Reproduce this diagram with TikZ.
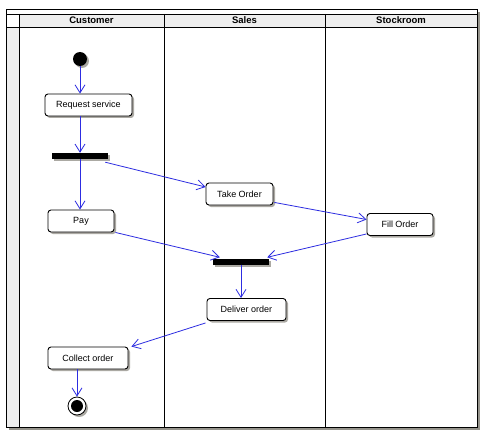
\documentclass[tikz,border=0pt]{standalone}
\usepackage{fontspec}
\setmainfont{Liberation Sans}
\usetikzlibrary{arrows.meta,shadows,calc}
\definecolor{flowblue}{RGB}{45,45,225}
\definecolor{lanegray}{RGB}{238,238,238}
\definecolor{shadowgray}{RGB}{150,148,140}
\tikzset{
  act/.style={draw=black, line width=0.9pt, rounded corners=3pt, fill=white,
    drop shadow={shadow xshift=2pt, shadow yshift=-2pt, fill=shadowgray, opacity=0.8},
    minimum height=22pt, inner sep=0pt, font=\fontsize{9}{11}\selectfont},
  bar/.style={fill=black, draw=none, minimum width=56pt, minimum height=6pt, inner sep=0pt,
    drop shadow={shadow xshift=2pt, shadow yshift=-2pt, fill=shadowgray, opacity=0.8}},
  flow/.style={draw=flowblue, line width=0.8pt, -{Straight Barb[length=8pt,width=10pt,line width=0.8pt]}},
  lanehead/.style={font=\bfseries\fontsize{9.5}{11}\selectfont}
}
\begin{document}
\begin{tikzpicture}[x=1pt,y=-1pt]
\useasboundingbox (0,0) rectangle (500,433);
% frame shadow
\fill[shadowgray] (477,12) rectangle (480,430);
\fill[shadowgray] (9,427) rectangle (480,430);
% frame
\fill[white] (6,9) rectangle (477,427);
\fill[lanegray] (6,27) rectangle (19,427);
\fill[lanegray] (19,14) rectangle (477,27);
\draw[line width=0.8pt] (6,9) rectangle (477,427);
\draw[line width=0.8pt] (6,14) -- (477,14);
\draw[line width=0.8pt] (6,27) -- (477,27);
\draw[line width=0.8pt] (19,14) -- (19,427);
\draw[line width=0.8pt] (164,14) -- (164,427);
\draw[line width=0.8pt] (325,14) -- (325,427);
\node[lanehead] (hcust) at (91.5,20.5) {Customer};
\node[lanehead] (hsales) at (244.5,20.5) {Sales};
\node[lanehead] (hstock) at (401,20.5) {Stockroom};
% nodes
\node[circle, fill=black, minimum size=14pt, inner sep=0pt,
  drop shadow={shadow xshift=2pt, shadow yshift=-2pt, fill=shadowgray, opacity=0.8}] (init) at (80,59) {};
\node[act, minimum width=87pt] (req) at (88.5,105) {Request service};
\node[bar] (fork) at (80,156) {};
\node[act, minimum width=66pt] (pay) at (81,221) {Pay};
\node[act, minimum width=67pt] (take) at (239.5,194) {Take Order};
\node[act, minimum width=66pt] (fill) at (400,224.5) {Fill Order};
\node[bar] (join) at (241,261.5) {};
\node[act, minimum width=79pt] (deliver) at (246.5,309.5) {Deliver order};
\node[act, minimum width=80pt] (collect) at (88,358) {Collect order};
\node[circle, draw=black, fill=white, line width=0.8pt, minimum size=18pt, inner sep=0pt,
  drop shadow={shadow xshift=2pt, shadow yshift=-2pt, fill=shadowgray, opacity=0.8}] (final) at (77,406) {};
\node[circle, fill=black, minimum size=12pt, inner sep=0pt] (finaldot) at (final.center) {};
% flows
\draw[flow] (init.south) -- (req.north -| init.south);
\draw[flow] (req.south -| init.south) -- (fork.north -| init.south);
\draw[flow] (fork.south -| init.south) -- (pay.north -| init.south);
\draw[flow] ($(fork.south east)+(-3,3)$) -- ($(take.west)+(0,-7)$);
\draw[flow] ($(take.south east)+(1,-3)$) -- ($(fill.west)+(0,-5)$);
\draw[flow] ($(pay.south east)+(1,0)$) -- ($(join.north west)+(7,-1)$);
\draw[flow] ($(fill.south west)+(0,-2)$) -- ($(join.north east)+(-2,-1)$);
\draw[flow] (join.south) -- (deliver.north -| join.south);
\draw[flow] ($(deliver.south west)+(-1,2)$) -- ($(collect.north east)+(3,0)$);
\draw[flow] (collect.south -| final.north) -- (final.north);
\end{tikzpicture}
\end{document}
